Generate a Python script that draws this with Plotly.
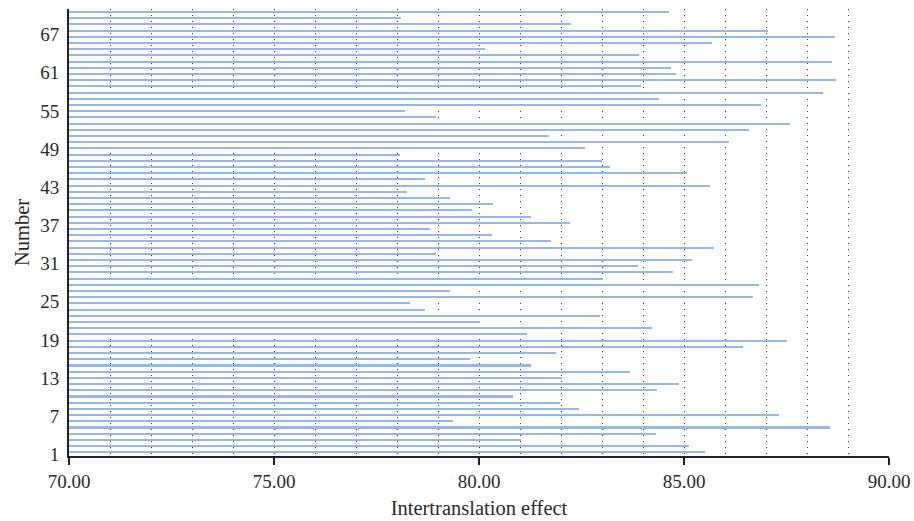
import plotly.graph_objects as go

# Bar values, bottom (row 1) to top (row 72)
numbers = list(range(1, 73))
effect = [
    85.52, 85.11, 81.03, 84.32, 88.56, 79.36, 87.32, 82.43, 81.97, 80.83,
    84.35, 84.87, 82.03, 83.68, 81.26, 79.77, 81.87, 86.45, 87.51, 81.18,
    84.21, 80.02, 82.95, 78.68, 78.31, 86.69, 79.30, 86.84, 83.02, 84.72,
    83.87, 85.19, 78.94, 85.73, 81.75, 80.31, 78.80, 82.22, 81.27, 79.82,
    80.33, 79.30, 78.24, 85.64, 78.69, 85.08, 83.20, 82.99, 78.07, 82.59,
    86.09, 81.70, 86.59, 87.59, 78.94, 78.19, 86.87, 84.39, 88.39, 83.95,
    88.71, 84.81, 84.69, 88.61, 83.91, 80.14, 85.69, 88.68, 87.05, 82.24,
    78.09, 84.63,
]
y_tick_vals = [1, 7, 13, 19, 25, 31, 37, 43, 49, 55, 61, 67]
x_tick_vals = [70, 75, 80, 85, 90]

FONT = "Liberation Serif"
TXT = "#2a2a2a"

fig = go.Figure()
fig.add_trace(go.Bar(
    x=effect, y=numbers, orientation="h", width=0.33,
    marker=dict(color="#98b8e2", line=dict(width=0)),
    showlegend=False, hoverinfo="x+y",
))
# invisible helper trace for the labelled Number axis
fig.add_trace(go.Scatter(
    x=[70], y=[1], yaxis="y2", mode="markers",
    marker=dict(opacity=0), showlegend=False, hoverinfo="skip",
))

grid = dict(showgrid=True, gridcolor="#3a3a3a", gridwidth=1, griddash="1px,5px")

fig.update_layout(
    template="none",
    width=914, height=521,
    margin=dict(l=69, r=25, t=9, b=65),
    paper_bgcolor="white", plot_bgcolor="white",
    font=dict(family=FONT, color=TXT, size=19),
    bargap=0,
    xaxis=dict(
        automargin=False,
        range=[70, 90], tickvals=x_tick_vals, tickformat=".2f",
        ticks="outside", ticklen=7, tickwidth=2, tickcolor="#222",
        showline=True, linewidth=2, linecolor="#222",
        zeroline=False,
        tickfont=dict(family=FONT, size=19, color=TXT),
        title=dict(text="Intertranslation effect", font=dict(family=FONT, size=20.5, color=TXT), standoff=10),
        minor=dict(dtick=1, ticks="", **grid),
        **grid,
    ),
    yaxis=dict(
        automargin=False,
        range=[0.403, 72.48], showticklabels=False, ticks="",
        showline=True, linewidth=2, linecolor="#222",
        showgrid=False, zeroline=False, fixedrange=True,
    ),
    yaxis2=dict(
        automargin=False,
        overlaying="y", side="left", range=[0.732, 71.04],
        tickvals=y_tick_vals, ticks="outside", ticklen=5, tickcolor="rgba(0,0,0,0)",
        showline=False, showgrid=False, zeroline=False,
        tickfont=dict(family=FONT, size=19, color=TXT),
        title=dict(text="Number", font=dict(family=FONT, size=20.5, color=TXT), standoff=5),
    ),
)

fig.write_html(
    "out.html",
    config={"displayModeBar": False},
    post_script="document.body.style.margin='0px';",
)
